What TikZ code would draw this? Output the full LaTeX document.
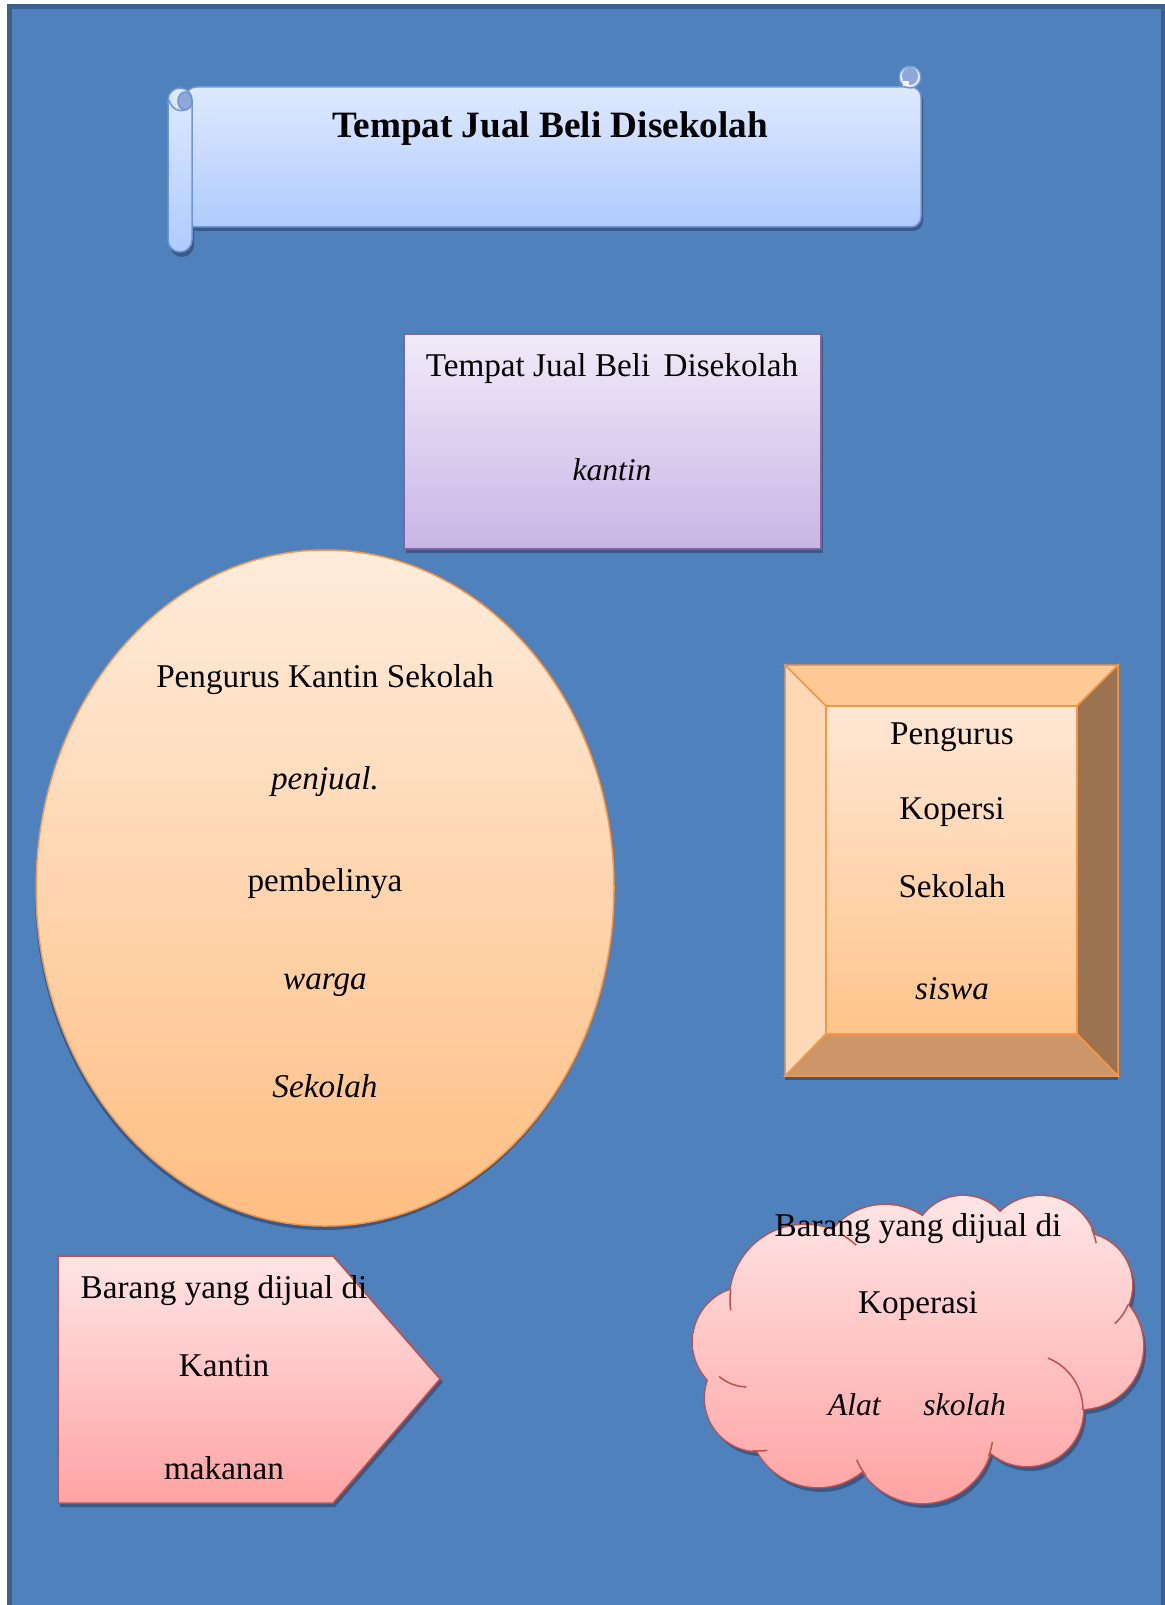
\documentclass[tikz,border=0pt]{standalone}
\usepackage{fontspec}
\setmainfont{Liberation Serif}
\usetikzlibrary{shapes.geometric}

\definecolor{pagefill}{HTML}{4F81BD}
\definecolor{pageline}{HTML}{3B5F8F}
\definecolor{shadowblue}{HTML}{385A88}
\definecolor{scrolltop}{HTML}{DEE9FF}
\definecolor{scrollbot}{HTML}{AFCBFF}
\definecolor{scrollline}{HTML}{6F95D2}
\definecolor{scrollcurl}{HTML}{8EA8D8}
\definecolor{purpletop}{HTML}{F1EBF9}
\definecolor{purplebot}{HTML}{C8B5E5}
\definecolor{purpleline}{HTML}{8064A2}
\definecolor{orangetop}{HTML}{FFECDB}
\definecolor{orangebot}{HTML}{FFBE82}
\definecolor{orangeline}{HTML}{F79646}
\definecolor{beveltop}{HTML}{FFC995}
\definecolor{bevelleft}{HTML}{FFD8B6}
\definecolor{bevelright}{HTML}{9B7350}
\definecolor{bevelbot}{HTML}{CC9668}
\definecolor{innertop}{HTML}{FFE7D5}
\definecolor{innerbot}{HTML}{FFC48B}
\definecolor{pinktop}{HTML}{FFE5E5}
\definecolor{pinkbot}{HTML}{FFA3A3}
\definecolor{pinkline}{HTML}{C0504D}

\begin{document}
\begin{tikzpicture}[x = 0.5pt, y = -0.5pt,
  bodytext/.style = {font=\fontsize{16.6}{20}\selectfont, inner sep=0pt},
  bodyital/.style = {font=\itshape\fontsize{16.6}{20}\selectfont, inner sep=0pt},
  timesital/.style = {font=\itshape\fontsize{15.8}{19}\selectfont, inner sep=0pt},
  titletext/.style = {font=\bfseries\fontsize{18.6}{22}\selectfont, inner sep=0pt},
  dropshadow/.style = {fill=shadowblue, draw=none},
  scrollpart/.style = {draw=scrollline, line width=0.75pt, top color=scrolltop, bottom color=scrollbot},
  puffline/.style = {pinkline, line width=0.75pt}]
\useasboundingbox (0,0) rectangle (1165,1605);
\fill[white] (0,0) rectangle (1165,1605);
\draw[pageline, fill=pagefill, line width=2.5pt] (9.5,6.5) rectangle (1163.5,1620);

% title scroll
\fill[dropshadow, rounded corners=5pt] (188,91) rectangle (923,231);
\fill[dropshadow, rounded corners=6pt] (170,92) rectangle (194,257);
\draw[scrollpart, rounded corners=5pt] (186,87) rectangle (921,227);
\draw[scrollpart, rounded corners=6pt] (168,88) rectangle (192,252);
\draw[scrollline, line width=0.75pt, fill=scrollcurl] (185,101) ellipse (3.5pt and 4.5pt);
\draw[scrollline, line width=0.75pt] (169,100) .. controls (172,110) and (180,112) .. (185,110);
\draw[scrollline, line width=0.75pt, fill=scrolltop] (910,77) circle (5.5pt);
\fill[scrollcurl] (910,76) ellipse (4pt and 4.5pt);
\fill[white] (903,81) rectangle (909,86);
\node[titletext] (title) at (550,129) {Tempat Jual Beli Disekolah};

% purple box
\fill[dropshadow] (406,337) rectangle (823,553);
\draw[purpleline, line width=0.75pt, top color=purpletop, bottom color=purplebot] (404,334) rectangle (821,549);
\node[bodytext] (placetitle) at (612,369) {Tempat Jual Beli\hspace{0.4em}Disekolah};
\node[timesital] (placename) at (612,470) {kantin};

% oval
\node[ellipse, dropshadow, minimum width=289pt, minimum height=338pt] (ovalshadow) at (324,892) {};
\node[ellipse, draw=orangeline, line width=0.75pt, top color=orangetop, bottom color=orangebot,
  minimum width=289pt, minimum height=338pt] (kantinoval) at (325,888) {};
\node[bodytext] (ovalone) at (325,680) {Pengurus Kantin Sekolah};
\node[bodyital] (ovaltwo) at (325,782) {penjual.};
\node[bodytext] (ovalthree) at (325,884) {pembelinya};
\node[bodyital] (ovalfour) at (325,985) {warga};
\node[bodyital] (ovalfive) at (325,1086) {Sekolah};

% bevel box
\fill[dropshadow] (785,668) rectangle (1118,1080);
\draw[orangeline, line width=0.75pt, fill=beveltop] (785,665) -- (1118,665) -- (1077,706) -- (826,706) -- cycle;
\draw[orangeline, line width=0.75pt, fill=bevelleft] (785,665) -- (826,706) -- (826,1034) -- (785,1076) -- cycle;
\draw[orangeline, line width=0.75pt, fill=bevelright] (1118,665) -- (1118,1076) -- (1077,1034) -- (1077,706) -- cycle;
\draw[orangeline, line width=0.75pt, fill=bevelbot] (785,1076) -- (826,1034) -- (1077,1034) -- (1118,1076) -- cycle;
\draw[orangeline, line width=0.75pt, top color=innertop, bottom color=innerbot] (826,706) rectangle (1077,1034);
\node[bodytext] (bevelone) at (952,737) {Pengurus};
\node[bodytext] (beveltwo) at (952,812) {Kopersi};
\node[bodytext] (bevelthree) at (952,886) {Sekolah};
\node[bodyital] (bevelfour) at (952,989) {siswa};

% pentagon
\fill[dropshadow] (60,1259) -- (335,1259) -- (443,1382) -- (335,1507) -- (60,1507) -- cycle;
\draw[pinkline, line width=0.75pt, top color=pinktop, bottom color=pinkbot]
  (58,1256) -- (333,1256) -- (440,1379) -- (333,1503) -- (58,1503) -- cycle;
\node[bodytext] (arrowone) at (224,1291) {Barang yang dijual di};
\node[bodytext] (arrowtwo) at (224,1366) {Kantin};
\node[bodytext] (arrowthree) at (224,1468) {makanan};

% cloud, built from puffs
\fill[dropshadow] \foreach \cx/\cy/\r in {748/1342/55, 805/1300/75, 885/1272/67, 963/1246/50, 1040/1253/57,
    1080/1285/52, 1080/1346/63, 1027/1410/56, 922/1432/71, 818/1418/69, 758/1398/53}
  {(\cx+3,\cy+5) circle [radius=\r]};
\draw[pinkline, line width=1.5pt] \foreach \cx/\cy/\r in {748/1342/55, 805/1300/75, 885/1272/67, 963/1246/50, 1040/1253/57,
    1080/1285/52, 1080/1346/63, 1027/1410/56, 922/1432/71, 818/1418/69, 758/1398/53}
  {(\cx,\cy) circle [radius=\r]};
\shade[top color=pinktop, bottom color=pinkbot] \foreach \cx/\cy/\r in {748/1342/55, 805/1300/75, 885/1272/67, 963/1246/50, 1040/1253/57,
    1080/1285/52, 1080/1346/63, 1027/1410/56, 922/1432/71, 818/1418/69, 758/1398/53}
  {(\cx,\cy) circle [radius=\r]} (918,1345) ellipse [x radius=150, y radius=80];
\draw[puffline] (805,1300) ++(-62:75) arc[start angle=-62, end angle=-47, radius=75];
\draw[puffline] (805,1300) ++(172:75) arc[start angle=172, end angle=188, radius=75];
\draw[puffline] (1040,1253) ++(-25:57) arc[start angle=-25, end angle=-10, radius=57];
\draw[puffline] (1080,1285) ++(22:52) arc[start angle=22, end angle=48, radius=52];
\draw[puffline] (1027,1410) ++(0:56) arc[start angle=0, end angle=-68, radius=56];
\draw[puffline] (922,1432) ++(8:71) arc[start angle=8, end angle=20, radius=71];
\draw[puffline] (922,1432) ++(142:71) arc[start angle=142, end angle=157, radius=71];
\draw[puffline] (758,1398) ++(80:53) arc[start angle=80, end angle=96, radius=53];
\draw[puffline] (748,1342) ++(92:45) arc[start angle=92, end angle=130, radius=45];
\node[bodytext] (cloudone) at (918,1229) {Barang yang dijual di};
\node[bodytext] (cloudtwo) at (918,1306) {Koperasi};
\node[timesital] (cloudthree) at (917,1405) {Alat\hspace{1.35em}skolah};
\end{tikzpicture}
\end{document}
